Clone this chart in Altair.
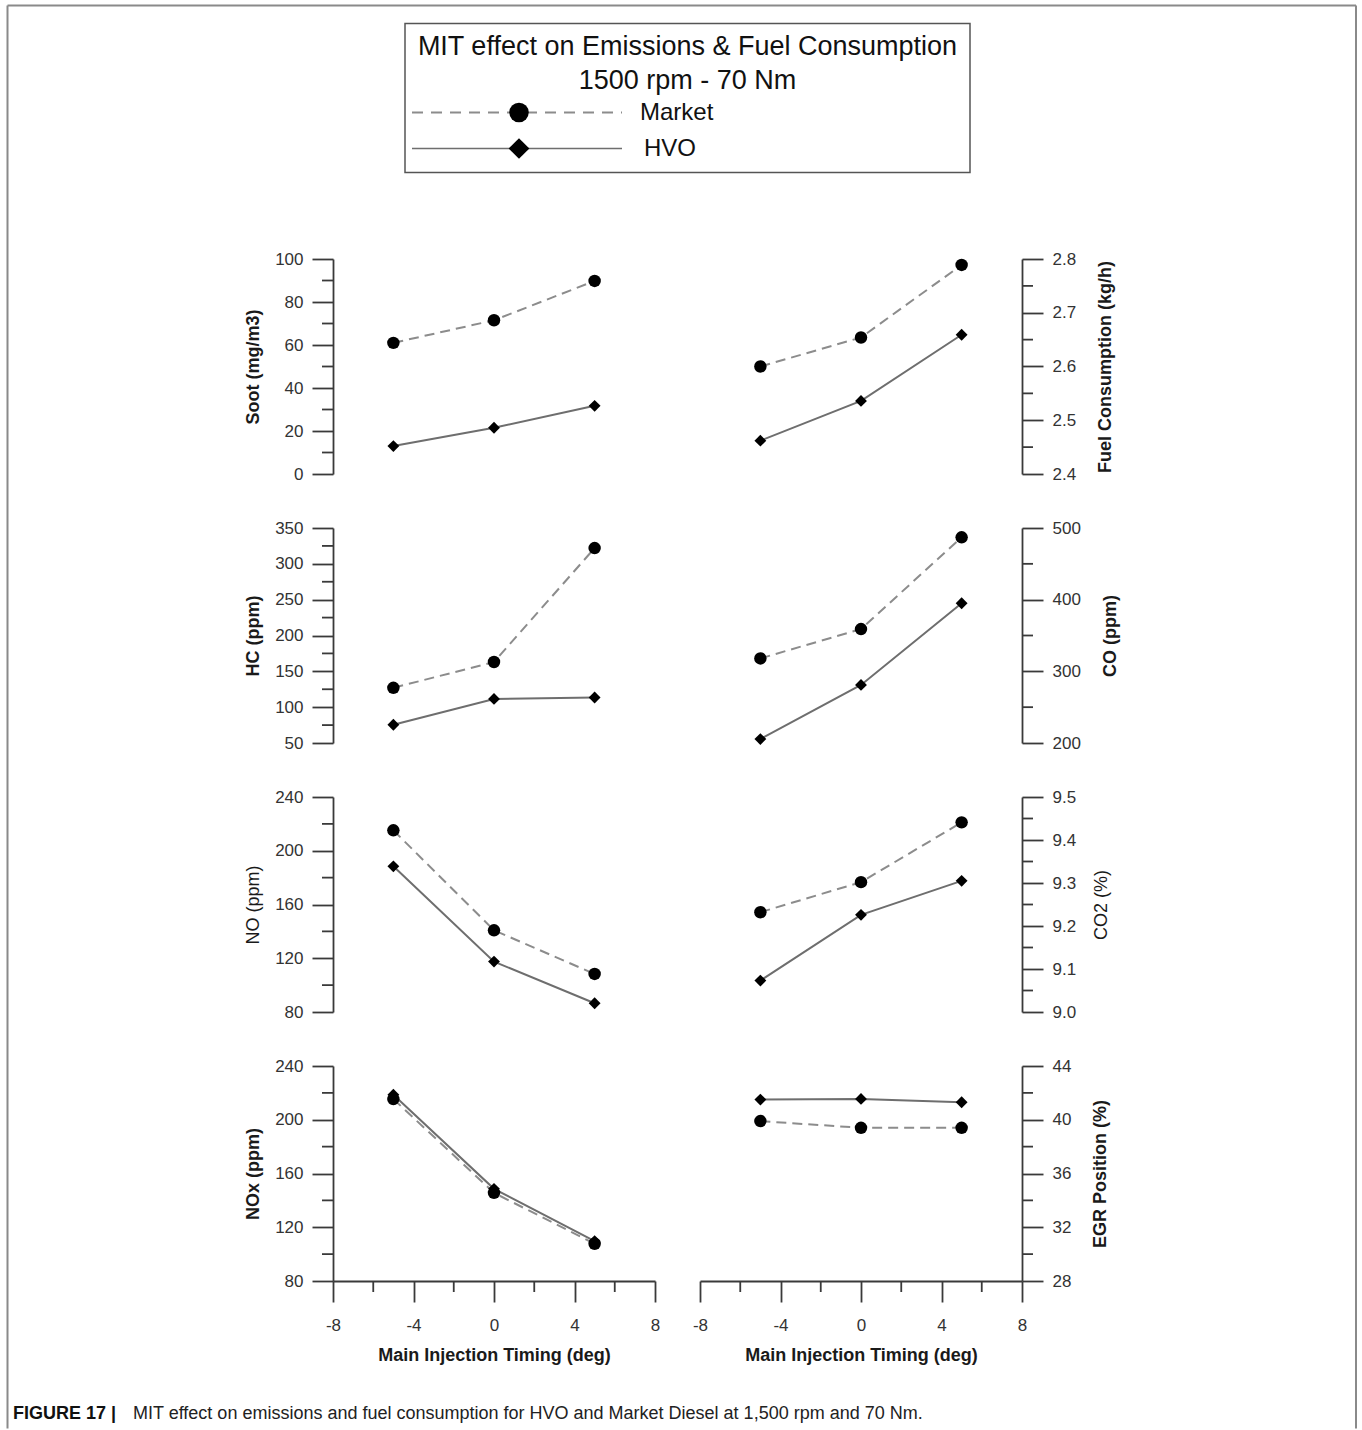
import altair as alt
import pandas as pd

# ---------------- data ----------------
mit = [-5, 0, 5]

soot_market = [61.0, 71.5, 89.8]
soot_hvo = [13.0, 21.5, 31.7]
fc_market = [2.600, 2.654, 2.789]
fc_hvo = [2.462, 2.536, 2.659]
hc_market = [127, 163, 322]
hc_hvo = [75.5, 111.5, 113.5]
co_market = [318, 359, 487]
co_hvo = [205.5, 281, 395]
no_market = [215.2, 140.8, 108.3]
no_hvo = [188.4, 117.5, 86.5]
co2_market = [9.232, 9.302, 9.441]
co2_hvo = [9.073, 9.226, 9.305]
nox_market = [215.4, 145.6, 107.7]
nox_hvo = [218.6, 148.6, 109.7]
egr_market = [39.9, 39.4, 39.4]
egr_hvo = [41.5, 41.55, 41.3]

x_major = [-8, -4, 0, 4, 8]
x_minor = [-6, -2, 2, 6]

soot_ticks = [0, 20, 40, 60, 80, 100]
soot_minor = [10, 30, 50, 70, 90]
fc_ticks = [2.4, 2.5, 2.6, 2.7, 2.8]
fc_minor = [2.45, 2.55, 2.65, 2.75]
hc_ticks = [50, 100, 150, 200, 250, 300, 350]
hc_minor = [75, 125, 175, 225, 275, 325]
co_ticks = [200, 300, 400, 500]
co_minor = [250, 350, 450]
no_ticks = [80, 120, 160, 200, 240]
no_minor = [100, 140, 180, 220]
co2_ticks = [9.0, 9.1, 9.2, 9.3, 9.4, 9.5]
co2_minor = [9.05, 9.15, 9.25, 9.35, 9.45]
nox_ticks = [80, 120, 160, 200, 240]
nox_minor = [100, 140, 180, 220]
egr_ticks = [28, 32, 36, 40, 44]
egr_minor = [30, 34, 38, 42]

panels = [
    dict(title="Soot (mg/m3)", bold=True, side="left", ticks=soot_ticks, minor=soot_minor, fmt="d", m=soot_market, h=soot_hvo),
    dict(title="Fuel Consumption (kg/h)", bold=True, side="right", ticks=fc_ticks, minor=fc_minor, fmt=".1f", m=fc_market, h=fc_hvo),
    dict(title="HC (ppm)", bold=True, side="left", ticks=hc_ticks, minor=hc_minor, fmt="d", m=hc_market, h=hc_hvo),
    dict(title="CO (ppm)", bold=True, side="right", ticks=co_ticks, minor=co_minor, fmt="d", m=co_market, h=co_hvo),
    dict(title="NO (ppm)", bold=False, side="left", ticks=no_ticks, minor=no_minor, fmt="d", m=no_market, h=no_hvo),
    dict(title="CO2 (%)", bold=False, side="right", ticks=co2_ticks, minor=co2_minor, fmt=".1f", m=co2_market, h=co2_hvo),
    dict(title="NOx (ppm)", bold=True, side="left", ticks=nox_ticks, minor=nox_minor, fmt="d", m=nox_market, h=nox_hvo),
    dict(title="EGR Position (%)", bold=True, side="right", ticks=egr_ticks, minor=egr_minor, fmt="d", m=egr_market, h=egr_hvo),
]

# ---------------- style ----------------
FONT = "Liberation Sans"
AX = "#3a3a3a"
W, H = 322, 215
MAJ, MIN = 21, 11
MARKET_COL = "#8c8c8c"
HVO_COL = "#6e6e6e"


def make_panel(p, bottom, decorations=None):
    xscale = alt.Scale(domain=[-8, 8], nice=False, zero=False)
    yscale = alt.Scale(domain=[p["ticks"][0], p["ticks"][-1]], nice=False, zero=False)
    if bottom:
        xaxis = alt.Axis(values=x_major, labelExpr="toString(datum.value)",
                         title="Main Injection Timing (deg)",
                         tickSize=MAJ, labelPadding=15, titlePadding=13,
                         titleFontWeight="bold", labelFlush=False)
    else:
        xaxis = None
    right = p["side"] == "right"
    yaxis = alt.Axis(orient=p["side"], values=p["ticks"], format=p["fmt"], title=p["title"],
                     tickSize=MAJ, labelPadding=9,
                     titlePadding=(21 if p["bold"] else 17) if right else 12,
                     titleAngle=270, titleAlign="center",
                     titleBaseline="top" if right else "bottom",
                     titleFontWeight="bold" if p["bold"] else "normal",
                     labelFlush=False)
    x_enc = alt.X("x:Q", scale=xscale, axis=xaxis)
    y_enc = alt.Y("value:Q", scale=yscale, axis=yaxis)

    dm = pd.DataFrame({"x": mit, "value": p["m"]})
    dh = pd.DataFrame({"x": mit, "value": p["h"]})

    layers = []
    layers.append(alt.Chart(dm).mark_line(color=MARKET_COL, strokeWidth=2, strokeDash=[10, 6])
                  .encode(x=x_enc, y=y_enc))
    layers.append(alt.Chart(dh).mark_line(color=HVO_COL, strokeWidth=2)
                  .encode(x=x_enc, y=y_enc))
    layers.append(alt.Chart(dh).mark_point(shape="diamond", filled=True, color="black", opacity=1, size=140)
                  .encode(x=x_enc, y=y_enc))
    layers.append(alt.Chart(dm).mark_point(shape="circle", filled=True, color="black", opacity=1, size=155)
                  .encode(x=x_enc, y=y_enc))
    # minor y ticks
    dmin = pd.DataFrame({"value": p["minor"]})
    if right:
        xa, xb = W, W + MIN
    else:
        xa, xb = -MIN, 0
    layers.append(alt.Chart(dmin).mark_rule(color=AX, strokeWidth=1.8)
                  .encode(y=y_enc, x=alt.value(xa), x2=alt.value(xb)))
    if bottom:
        dxm = pd.DataFrame({"x": x_minor})
        layers.append(alt.Chart(dxm).mark_rule(color=AX, strokeWidth=1.8)
                      .encode(x=x_enc, y=alt.value(H), y2=alt.value(H + MIN)))
    if decorations:
        layers.extend(decorations)
    return alt.layer(*layers).properties(width=W, height=H)


one = pd.DataFrame({"k": [0]})
FRAME = "#8a8a8a"
L, T, R, B = -325.5, -253.5, 1023, 1169.5
deco = [
    alt.Chart(one).mark_rule(color=FRAME, strokeWidth=2).encode(x=alt.value(L), x2=alt.value(R), y=alt.value(T)),
    alt.Chart(one).mark_rule(color=FRAME, strokeWidth=2).encode(x=alt.value(L), y=alt.value(T), y2=alt.value(B)),
    alt.Chart(one).mark_rule(color=FRAME, strokeWidth=2).encode(x=alt.value(R), y=alt.value(T), y2=alt.value(B)),
    # legend box
    alt.Chart(one).mark_rect(fill="white", stroke="#555555", strokeWidth=1.5)
    .encode(x=alt.value(72), x2=alt.value(637), y=alt.value(-235.5), y2=alt.value(-86.5)),
    alt.Chart(one).mark_text(font=FONT, fontSize=27, align="center", baseline="middle", color="#111111")
    .encode(x=alt.value(354.5), y=alt.value(-212.5), text=alt.value("MIT effect on Emissions & Fuel Consumption")),
    alt.Chart(one).mark_text(font=FONT, fontSize=27, align="center", baseline="middle", color="#111111")
    .encode(x=alt.value(354.5), y=alt.value(-178.5), text=alt.value("1500 rpm - 70 Nm")),
    alt.Chart(one).mark_rule(color=MARKET_COL, strokeWidth=2, strokeDash=[11, 8])
    .encode(x=alt.value(79), x2=alt.value(289), y=alt.value(-146.5)),
    alt.Chart(one).mark_point(shape="circle", filled=True, color="black", opacity=1, size=380)
    .encode(x=alt.value(186), y=alt.value(-146.5)),
    alt.Chart(one).mark_text(font=FONT, fontSize=24, align="left", baseline="middle", color="#111111")
    .encode(x=alt.value(307), y=alt.value(-146.5), text=alt.value("Market")),
    alt.Chart(one).mark_rule(color=HVO_COL, strokeWidth=1.5)
    .encode(x=alt.value(79), x2=alt.value(289), y=alt.value(-110.5)),
    alt.Chart(one).mark_point(shape="diamond", filled=True, color="black", opacity=1, size=430)
    .encode(x=alt.value(186), y=alt.value(-110.5)),
    alt.Chart(one).mark_text(font=FONT, fontSize=24, align="left", baseline="middle", color="#111111")
    .encode(x=alt.value(311), y=alt.value(-110.5), text=alt.value("HVO")),
    # caption
    alt.Chart(one).mark_text(font=FONT, fontSize=18, fontWeight="bold", align="left", baseline="middle", color="#111111")
    .encode(x=alt.value(-320), y=alt.value(1154.5), text=alt.value("FIGURE 17 |")),
    alt.Chart(one).mark_text(font=FONT, fontSize=18, align="left", baseline="middle", color="#222222")
    .encode(x=alt.value(-200), y=alt.value(1154.5),
            text=alt.value("MIT effect on emissions and fuel consumption for HVO and Market Diesel at 1,500 rpm and 70 Nm.")),
]

charts = []
for i, p in enumerate(panels):
    charts.append(make_panel(p, bottom=(i >= 6), decorations=deco if i == 0 else None))

chart = alt.concat(*charts, columns=2, spacing={"row": 54, "column": 45}).properties(
    bounds="flush",
    padding={"left": 6, "top": 4, "right": 0, "bottom": 0},
).configure_view(stroke=None).configure_axis(
    grid=False, domainColor=AX, tickColor=AX, domainWidth=1.8, tickWidth=1.8,
    labelFont=FONT, titleFont=FONT, labelFontSize=17, titleFontSize=18,
    labelColor="#333333", titleColor="#1a1a1a",
)

chart.save("out.html", embed_options={"renderer": "svg", "actions": False})
